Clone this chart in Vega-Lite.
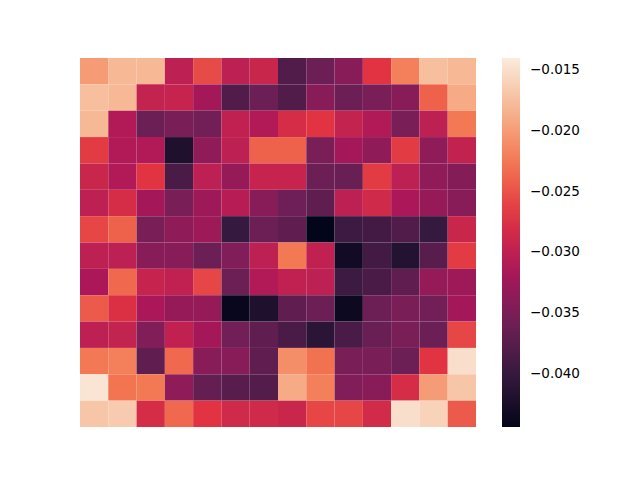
{
  "$schema": "https://vega.github.io/schema/vega-lite/v6.json",
  "autosize": "none",
  "padding": {"left": 80, "top": 58, "right": 164, "bottom": 53},
  "width": 396,
  "height": 369,
  "background": "white",
  "config": {"view": {"stroke": null}},
  "datasets": {
    "grid": [
      {"r":0,"c":0,"v":-0.020},{"r":0,"c":1,"v":-0.018},{"r":0,"c":2,"v":-0.018},{"r":0,"c":3,"v":-0.030},{"r":0,"c":4,"v":-0.0255},{"r":0,"c":5,"v":-0.030},{"r":0,"c":6,"v":-0.029},{"r":0,"c":7,"v":-0.038},{"r":0,"c":8,"v":-0.036},{"r":0,"c":9,"v":-0.034},{"r":0,"c":10,"v":-0.027},{"r":0,"c":11,"v":-0.022},{"r":0,"c":12,"v":-0.0175},{"r":0,"c":13,"v":-0.018},
      {"r":1,"c":0,"v":-0.0175},{"r":1,"c":1,"v":-0.018},{"r":1,"c":2,"v":-0.0295},{"r":1,"c":3,"v":-0.0293},{"r":1,"c":4,"v":-0.032},{"r":1,"c":5,"v":-0.038},{"r":1,"c":6,"v":-0.036},{"r":1,"c":7,"v":-0.038},{"r":1,"c":8,"v":-0.034},{"r":1,"c":9,"v":-0.036},{"r":1,"c":10,"v":-0.035},{"r":1,"c":11,"v":-0.034},{"r":1,"c":12,"v":-0.024},{"r":1,"c":13,"v":-0.019},
      {"r":2,"c":0,"v":-0.018},{"r":2,"c":1,"v":-0.031},{"r":2,"c":2,"v":-0.036},{"r":2,"c":3,"v":-0.035},{"r":2,"c":4,"v":-0.0355},{"r":2,"c":5,"v":-0.0298},{"r":2,"c":6,"v":-0.031},{"r":2,"c":7,"v":-0.028},{"r":2,"c":8,"v":-0.027},{"r":2,"c":9,"v":-0.0295},{"r":2,"c":10,"v":-0.031},{"r":2,"c":11,"v":-0.035},{"r":2,"c":12,"v":-0.030},{"r":2,"c":13,"v":-0.0225},
      {"r":3,"c":0,"v":-0.0265},{"r":3,"c":1,"v":-0.031},{"r":3,"c":2,"v":-0.031},{"r":3,"c":3,"v":-0.042},{"r":3,"c":4,"v":-0.0335},{"r":3,"c":5,"v":-0.030},{"r":3,"c":6,"v":-0.024},{"r":3,"c":7,"v":-0.024},{"r":3,"c":8,"v":-0.035},{"r":3,"c":9,"v":-0.032},{"r":3,"c":10,"v":-0.0335},{"r":3,"c":11,"v":-0.0265},{"r":3,"c":12,"v":-0.0335},{"r":3,"c":13,"v":-0.0297},
      {"r":4,"c":0,"v":-0.029},{"r":4,"c":1,"v":-0.031},{"r":4,"c":2,"v":-0.027},{"r":4,"c":3,"v":-0.0385},{"r":4,"c":4,"v":-0.030},{"r":4,"c":5,"v":-0.033},{"r":4,"c":6,"v":-0.0293},{"r":4,"c":7,"v":-0.0293},{"r":4,"c":8,"v":-0.036},{"r":4,"c":9,"v":-0.0362},{"r":4,"c":10,"v":-0.0265},{"r":4,"c":11,"v":-0.030},{"r":4,"c":12,"v":-0.0335},{"r":4,"c":13,"v":-0.0343},
      {"r":5,"c":0,"v":-0.030},{"r":5,"c":1,"v":-0.028},{"r":5,"c":2,"v":-0.032},{"r":5,"c":3,"v":-0.035},{"r":5,"c":4,"v":-0.0325},{"r":5,"c":5,"v":-0.0305},{"r":5,"c":6,"v":-0.034},{"r":5,"c":7,"v":-0.0358},{"r":5,"c":8,"v":-0.037},{"r":5,"c":9,"v":-0.030},{"r":5,"c":10,"v":-0.0285},{"r":5,"c":11,"v":-0.0315},{"r":5,"c":12,"v":-0.033},{"r":5,"c":13,"v":-0.034},
      {"r":6,"c":0,"v":-0.0258},{"r":6,"c":1,"v":-0.024},{"r":6,"c":2,"v":-0.035},{"r":6,"c":3,"v":-0.0335},{"r":6,"c":4,"v":-0.0325},{"r":6,"c":5,"v":-0.040},{"r":6,"c":6,"v":-0.036},{"r":6,"c":7,"v":-0.037},{"r":6,"c":8,"v":-0.0444},{"r":6,"c":9,"v":-0.0395},{"r":6,"c":10,"v":-0.039},{"r":6,"c":11,"v":-0.038},{"r":6,"c":12,"v":-0.040},{"r":6,"c":13,"v":-0.029},
      {"r":7,"c":0,"v":-0.030},{"r":7,"c":1,"v":-0.030},{"r":7,"c":2,"v":-0.034},{"r":7,"c":3,"v":-0.034},{"r":7,"c":4,"v":-0.036},{"r":7,"c":5,"v":-0.0345},{"r":7,"c":6,"v":-0.030},{"r":7,"c":7,"v":-0.0225},{"r":7,"c":8,"v":-0.0298},{"r":7,"c":9,"v":-0.043},{"r":7,"c":10,"v":-0.039},{"r":7,"c":11,"v":-0.0415},{"r":7,"c":12,"v":-0.0375},{"r":7,"c":13,"v":-0.0265},
      {"r":8,"c":0,"v":-0.0315},{"r":8,"c":1,"v":-0.0235},{"r":8,"c":2,"v":-0.0293},{"r":8,"c":3,"v":-0.0298},{"r":8,"c":4,"v":-0.0258},{"r":8,"c":5,"v":-0.036},{"r":8,"c":6,"v":-0.031},{"r":8,"c":7,"v":-0.0298},{"r":8,"c":8,"v":-0.030},{"r":8,"c":9,"v":-0.0395},{"r":8,"c":10,"v":-0.0385},{"r":8,"c":11,"v":-0.037},{"r":8,"c":12,"v":-0.033},{"r":8,"c":13,"v":-0.0325},
      {"r":9,"c":0,"v":-0.0245},{"r":9,"c":1,"v":-0.0275},{"r":9,"c":2,"v":-0.0315},{"r":9,"c":3,"v":-0.033},{"r":9,"c":4,"v":-0.033},{"r":9,"c":5,"v":-0.044},{"r":9,"c":6,"v":-0.042},{"r":9,"c":7,"v":-0.037},{"r":9,"c":8,"v":-0.036},{"r":9,"c":9,"v":-0.0435},{"r":9,"c":10,"v":-0.036},{"r":9,"c":11,"v":-0.035},{"r":9,"c":12,"v":-0.0355},{"r":9,"c":13,"v":-0.032},
      {"r":10,"c":0,"v":-0.030},{"r":10,"c":1,"v":-0.0295},{"r":10,"c":2,"v":-0.0345},{"r":10,"c":3,"v":-0.0298},{"r":10,"c":4,"v":-0.032},{"r":10,"c":5,"v":-0.0355},{"r":10,"c":6,"v":-0.037},{"r":10,"c":7,"v":-0.0385},{"r":10,"c":8,"v":-0.041},{"r":10,"c":9,"v":-0.0385},{"r":10,"c":10,"v":-0.0362},{"r":10,"c":11,"v":-0.035},{"r":10,"c":12,"v":-0.036},{"r":10,"c":13,"v":-0.0258},
      {"r":11,"c":0,"v":-0.0225},{"r":11,"c":1,"v":-0.022},{"r":11,"c":2,"v":-0.037},{"r":11,"c":3,"v":-0.0235},{"r":11,"c":4,"v":-0.034},{"r":11,"c":5,"v":-0.034},{"r":11,"c":6,"v":-0.037},{"r":11,"c":7,"v":-0.021},{"r":11,"c":8,"v":-0.023},{"r":11,"c":9,"v":-0.035},{"r":11,"c":10,"v":-0.035},{"r":11,"c":11,"v":-0.036},{"r":11,"c":12,"v":-0.027},{"r":11,"c":13,"v":-0.015},
      {"r":12,"c":0,"v":-0.0145},{"r":12,"c":1,"v":-0.0228},{"r":12,"c":2,"v":-0.0225},{"r":12,"c":3,"v":-0.0335},{"r":12,"c":4,"v":-0.0365},{"r":12,"c":5,"v":-0.0375},{"r":12,"c":6,"v":-0.0378},{"r":12,"c":7,"v":-0.019},{"r":12,"c":8,"v":-0.022},{"r":12,"c":9,"v":-0.0345},{"r":12,"c":10,"v":-0.034},{"r":12,"c":11,"v":-0.028},{"r":12,"c":12,"v":-0.020},{"r":12,"c":13,"v":-0.017},
      {"r":13,"c":0,"v":-0.017},{"r":13,"c":1,"v":-0.0165},{"r":13,"c":2,"v":-0.028},{"r":13,"c":3,"v":-0.0235},{"r":13,"c":4,"v":-0.027},{"r":13,"c":5,"v":-0.0285},{"r":13,"c":6,"v":-0.0285},{"r":13,"c":7,"v":-0.029},{"r":13,"c":8,"v":-0.0258},{"r":13,"c":9,"v":-0.0258},{"r":13,"c":10,"v":-0.0283},{"r":13,"c":11,"v":-0.015},{"r":13,"c":12,"v":-0.016},{"r":13,"c":13,"v":-0.0245}
    ]
  },
  "data": {"name": "grid"},
  "mark": {"type": "rect", "strokeWidth": 0},
  "encoding": {
    "x": {"field": "c", "type": "ordinal", "axis": null, "scale": {"paddingInner": 0, "paddingOuter": 0}},
    "y": {"field": "r", "type": "ordinal", "axis": null, "scale": {"paddingInner": 0, "paddingOuter": 0}},
    "color": {
      "field": "v",
      "type": "quantitative",
      "scale": {
        "type": "linear",
        "domain": [-0.0444, -0.040057, -0.035714, -0.031371, -0.027029, -0.022686, -0.018343, -0.0140],
        "range": ["#03051A", "#35193E", "#701F57", "#AD1759", "#E13342", "#F37651", "#F6B48F", "#FAEBDD"],
        "interpolate": "rgb"
      },
      "legend": {
        "type": "gradient",
        "title": null,
        "orient": "none",
        "legendX": 422,
        "legendY": 0,
        "direction": "vertical",
        "gradientLength": 369,
        "gradientThickness": 18,
        "gradientStrokeWidth": 0,
        "values": [-0.040, -0.035, -0.030, -0.025, -0.020, -0.015],
        "format": ".3f",
        "labelFont": "DejaVu Sans",
        "labelFontSize": 13.5,
        "labelColor": "black",
        "labelOffset": 10,
        "labelOverlap": false
      }
    }
  }
}
